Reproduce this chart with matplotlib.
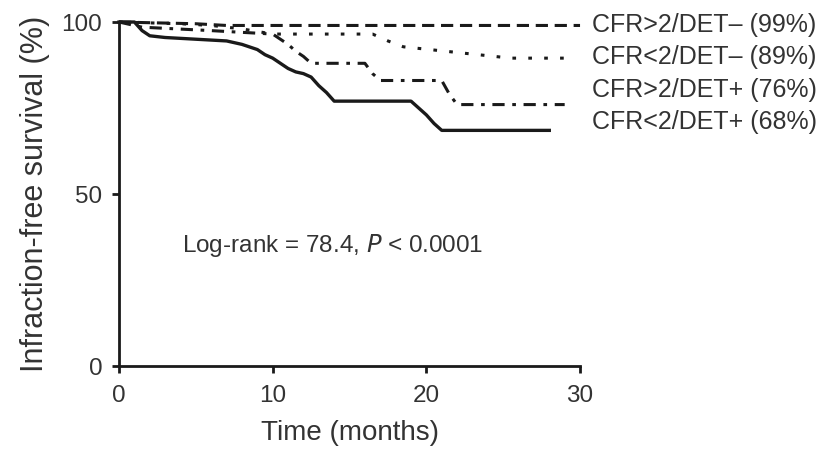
import numpy as np
import matplotlib.pyplot as plt

plt.rcParams['font.family'] = ['Liberation Sans', 'DejaVu Sans']

# Kaplan-Meier curves (time in months, survival in %)
t_dash = [0, 5, 7, 30]
s_dash = [100, 99.5, 99, 99]

t_dot = [0, 4, 6, 8, 10, 16.5, 17.5, 18.5, 25.5, 29.5]
s_dot = [100, 99.5, 99, 98, 96.5, 96.5, 94.5, 92.8, 89.5, 89.5]

t_dashdot = [0, 1.5, 6, 8, 10, 10.5, 11, 11.5, 12, 12.5, 16, 16.5, 17, 21, 21.5, 22, 29]
s_dashdot = [100, 98.5, 97.5, 97, 96.5, 95, 93.5, 91.5, 90, 88, 88, 85, 83, 83, 79, 76, 76]

t_solid = [0, 1, 1.5, 2, 3, 7, 8, 9, 9.5, 10, 10.5, 11, 11.5, 12, 12.5, 13, 13.5, 14,
           19, 19.5, 20, 20.5, 21, 28]
s_solid = [100, 100, 97.5, 96, 95.5, 94.5, 93.5, 92, 90.5, 89.5, 88, 86.5, 85.5, 85, 84,
           81.5, 79.5, 77, 77, 75, 73, 70.5, 68.5, 68.5]

labels = ["CFR>2/DET\u2013 (99%)", "CFR<2/DET\u2013 (89%)",
          "CFR>2/DET+ (76%)", "CFR<2/DET+ (68%)"]
label_y = [99, 89.8, 80.2, 70.9]

fig = plt.figure(figsize=(8.37, 4.55), dpi=100)
ax = fig.add_axes([0.1422, 0.1956, 0.5508, 0.756])

ink = '#1a1a1a'
txt = '#333333'
ax.plot(t_dash, s_dash, color=ink, lw=2.2, dashes=(4, 2.2), clip_on=False)
ax.plot(t_dot, s_dot, color=ink, lw=2.2, dashes=(1.2, 4), clip_on=False)
ax.plot(t_dashdot, s_dashdot, color=ink, lw=2.2, dashes=(4, 2.5, 1.2, 2.5), clip_on=False)
ax.plot(t_solid, s_solid, color=ink, lw=2.4, clip_on=False)

for lab, y in zip(labels, label_y):
    ax.text(30.8, y, lab, fontsize=18, color=txt, va='center', ha='left',
            clip_on=False)

ax.text(4.1, 35, "Log-rank = 78.4, $P$ < 0.0001", fontsize=17.5, color=txt,
        va='center', ha='left')

ax.set_xlim(0, 30)
ax.set_ylim(0, 100)
ax.set_xticks([0, 10, 20, 30])
ax.set_yticks([0, 50, 100])
ax.spines['top'].set_visible(False)
ax.spines['right'].set_visible(False)
for sp in ['left', 'bottom']:
    ax.spines[sp].set_linewidth(2)
    ax.spines[sp].set_color(ink)
ax.tick_params(width=2, length=5, pad=7, labelsize=17.5, colors=ink, labelcolor=txt)
ax.tick_params(axis='x', pad=9)
ax.set_xlabel("Time (months)", fontsize=20, color=txt, labelpad=9)
ax.set_ylabel("Infraction-free survival (%)", fontsize=22, color=txt, labelpad=8)

fig.savefig("out.png", dpi=100)
